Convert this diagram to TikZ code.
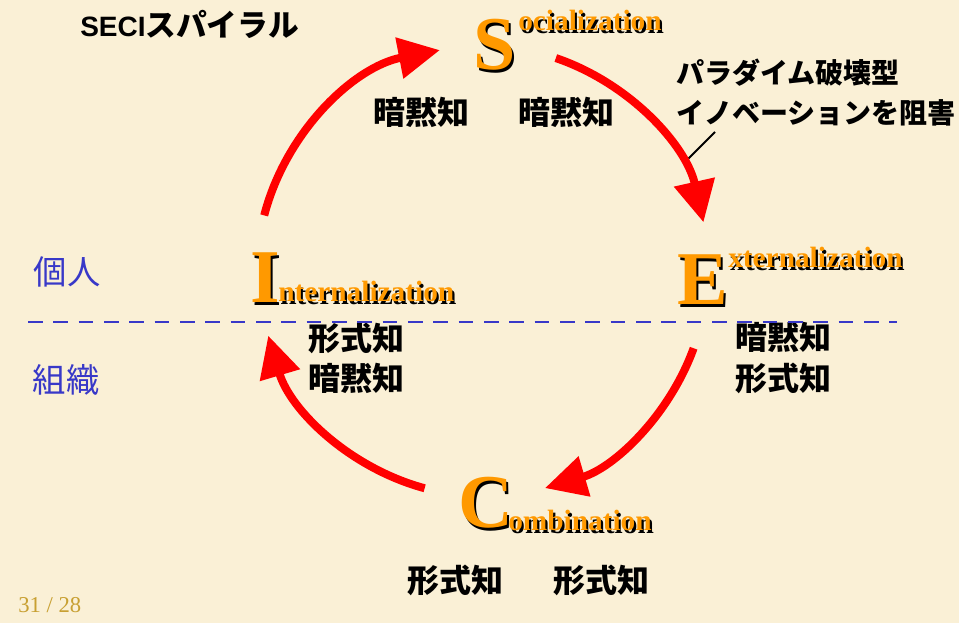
\documentclass[tikz,border=0pt]{standalone}
\usepackage{fontspec}
\setmainfont{Liberation Serif}
\newfontfamily\jp{Noto Sans CJK JP}
\newfontfamily\arialb{Liberation Sans}
\usetikzlibrary{arrows.meta}
\definecolor{bgbeige}{RGB}{250,240,214}
\definecolor{secorange}{RGB}{255,153,0}
\definecolor{slideblue}{RGB}{56,56,200}
\definecolor{pagegold}{RGB}{200,160,50}
\newcommand{\shd}[1]{\rlap{\kern1.6pt\raisebox{-1.6pt}{\color{black}#1}}#1}
\tikzset{
  bigletter/.style={inner sep=0pt, anchor=base west, text=secorange, font=\fontsize{57}{57}\selectfont\bfseries},
  smallword/.style={inner sep=0pt, anchor=base west, text=secorange, font=\fontsize{22}{22}\selectfont\bfseries},
  kanji/.style={inner sep=0pt, font=\jp\bfseries\fontsize{24}{24}\selectfont},
  bluelabel/.style={inner sep=0pt, text=slideblue, font=\jp\fontsize{25}{25}\selectfont},
  redarrow/.style={draw=red, line width=6pt, -{Triangle[length=31pt,width=30pt]}},
}
\begin{document}
\begin{tikzpicture}[x=0.75pt,y=0.75pt]
\fill[bgbeige] (0,0) rectangle (959,623);
\useasboundingbox (0,0) rectangle (959,623);
\coordinate (c0) at (483,351);

% title
\node[inner sep=0pt, anchor=west] (title) at (80,599)
  {\arialb\bfseries\fontsize{21}{21}\selectfont SECI\jp\fontsize{23}{23}\selectfont スパイラル};

% SECI letters
\node[bigletter] (S) at (473,553) {\shd{S}};
\node[smallword] (Sw) at (518,592) {\shd{ocialization}};
\node[bigletter] (E) at (677,318) {\shd{E}};
\node[smallword] (Ew) at (728,355) {\shd{xternalization}};
\node[bigletter] (I) at (250,320) {\shd{I}};
\node[smallword] (Iw) at (278,321) {\shd{nternalization}};
\node[bigletter] (C) at (458,95) {\shd{C}};
\node[smallword] (Cw) at (508,92) {\shd{ombination}};

% knowledge labels
\node[kanji] (k1) at (421,511) {暗黙知};
\node[kanji] (k2) at (566,511) {暗黙知};
\node[kanji] (k3) at (783,286) {暗黙知};
\node[kanji] (k4) at (783,245) {形式知};
\node[kanji] (k5) at (356,285) {形式知};
\node[kanji] (k6) at (356,245) {暗黙知};
\node[kanji] (k7) at (455,43) {形式知};
\node[kanji] (k8) at (601,43) {形式知};

% annotation
\node[inner sep=0pt, anchor=west, font=\jp\bfseries\fontsize{21}{21}\selectfont] (an1) at (676,550) {パラダイム破壊型};
\node[inner sep=0pt, anchor=west, font=\jp\bfseries\fontsize{21}{21}\selectfont] (an2) at (676,510) {イノベーションを阻害};
\coordinate (p1) at (715,491);
\coordinate (p2) at (685,461);
\draw[black, line width=1.5pt] (p1) -- (p2);

% individual / organisation
\node[bluelabel] (ind) at (67,351) {個人};
\node[bluelabel] (org) at (66,243) {組織};
\coordinate (d1) at (28,301);
\coordinate (d2) at (897,301);
\draw[slideblue, line width=2.2pt, dash pattern=on 11pt off 8pt] (d1) -- (d2);

% spiral arrows
\draw[redarrow] (c0) ++(165.5:226) arc[start angle=165.5, end angle=101, radius=226];
\draw[redarrow] (c0) ++(71.2:226) arc[start angle=71.2, end angle=12.7, radius=226];
\draw[redarrow] (c0) ++(-19.9:224) arc[start angle=-19.9, end angle=-73.6, radius=226];
\draw[redarrow] (c0) ++(-105.1:224) arc[start angle=-105.1, end angle=-163.5, radius=224];

% page number
\node[inner sep=0pt, anchor=base west, text=pagegold, font=\fontsize{17}{17}\selectfont] (pg) at (18,10) {31 / 28};
\end{tikzpicture}
\end{document}
